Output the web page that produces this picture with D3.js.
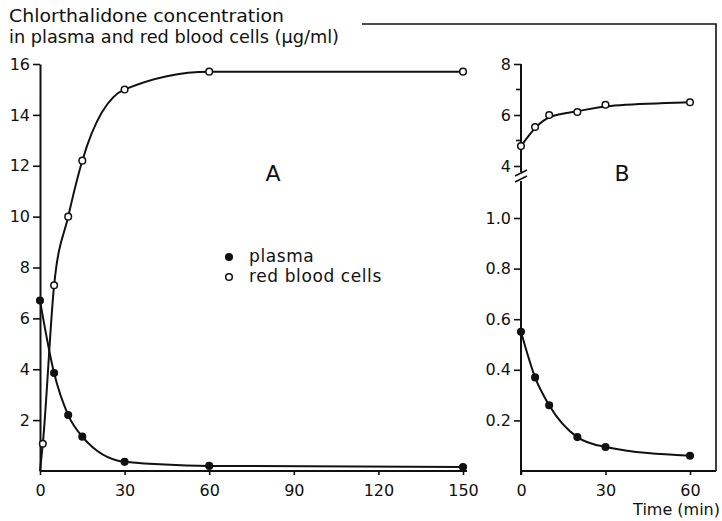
<!DOCTYPE html>
<html><head><meta charset="utf-8">
<script src="https://cdn.jsdelivr.net/npm/d3@7"></script>
<style>
body{margin:0;background:#fff;}
text{font-family:"DejaVu Sans",sans-serif;fill:#111;}
</style></head>
<body><svg id="c" width="722" height="521"></svg>
<script>
// ---- data ----
const titleLines = ["Chlorthalidone concentration", "in plasma and red blood cells (\u03bcg/ml)"];
// Panel A (0-150 min)
const plasmaATime = [0, 5, 10, 15, 30, 60, 150];
const plasmaAValue = [6.7, 3.85, 2.2, 1.35, 0.36, 0.2, 0.16];
const rbcATime = [0, 1, 5, 10, 15, 30, 60, 150];
const rbcAValue = [0, 1.07, 7.3, 10.0, 12.2, 15.0, 15.7, 15.7];
const rbcAMeasured = [false, true, true, true, true, true, true, true];
const xTicksA = [0, 30, 60, 90, 120, 150];
const yTicksA = [2, 4, 6, 8, 10, 12, 14, 16];
// Panel B (0-60 min)
const timeB = [0, 5, 10, 20, 30, 60];
const plasmaBValue = [0.55, 0.37, 0.26, 0.134, 0.095, 0.06];
const rbcBValue = [4.78, 5.53, 6.0, 6.12, 6.4, 6.5];
const xTicksB = [0, 30, 60];
const yTicksBLow = [0.2, 0.4, 0.6, 0.8, 1.0];
const yTicksBHigh = [4, 6, 8];
const yMinorBHigh = [5, 7];
const legendItems = ["plasma", "red blood cells"];

const svg = d3.select("#c");
const FS = 16;

// scales
const xA = d3.scaleLinear().domain([0, 150]).range([40, 463]);
const yA = d3.scaleLinear().domain([0, 16]).range([471, 64]);
const xB = d3.scaleLinear().domain([0, 60]).range([521, 690]);
const yBLow = d3.scaleLinear().domain([0, 1.0]).range([471, 218]);
const yBHigh = d3.scaleLinear().domain([4, 8]).range([166, 64]);

function styleAxis(g){
  g.selectAll("path.domain").attr("stroke","#111").attr("stroke-width",2);
  g.selectAll(".tick line").attr("stroke","#111").attr("stroke-width",1.6);
  g.selectAll("text").attr("font-size",FS).attr("font-family","DejaVu Sans, sans-serif").attr("fill","#111");
}

// title
const titleWidths = [275, 330];
svg.selectAll("text.title").data(titleLines).enter().append("text")
  .attr("class","title")
  .attr("x", 9).attr("y", (d,i)=> 22 + i*21).attr("font-size", 17)
  .attr("textLength", (d,i)=>titleWidths[i]).attr("lengthAdjust","spacingAndGlyphs")
  .text(d=>d);

// frame line top-right
svg.append("path").attr("d", `M362,24 H716 V471`).attr("fill","none").attr("stroke","#111").attr("stroke-width",1.6);

// ---- Panel A axes ----
const gyA = svg.append("g").attr("transform","translate(40,0)")
  .call(d3.axisLeft(yA).tickValues(yTicksA).tickSize(7).tickSizeOuter(0).tickPadding(3).tickFormat(d3.format("d")));
styleAxis(gyA);
const gxA = svg.append("g").attr("transform","translate(0,471)")
  .call(d3.axisBottom(xA).tickValues(xTicksA).tickSize(4).tickSizeOuter(0).tickPadding(10).tickFormat(d3.format("d")));
styleAxis(gxA);
gxA.select("path.domain").attr("d", `M${xA(0)},0H${xA(150)+4}`);

// ---- Panel B axes ----
const gyBLow = svg.append("g").attr("transform",`translate(${xB(0)},0)`)
  .call(d3.axisLeft(yBLow).tickValues(yTicksBLow).tickSize(7).tickSizeOuter(0).tickPadding(3).tickFormat(d3.format(".1f")));
styleAxis(gyBLow);
gyBLow.select("path.domain").attr("d", `M0,${yBLow(0)+4}V181`);
const gyBHigh = svg.append("g").attr("transform",`translate(${xB(0)},0)`)
  .call(d3.axisLeft(yBHigh).tickValues(yTicksBHigh).tickSize(7).tickSizeOuter(0).tickPadding(3).tickFormat(d3.format("d")));
styleAxis(gyBHigh);
gyBHigh.select("path.domain").attr("d", `M0,${yBHigh(8)}V172`);
svg.append("g").attr("transform",`translate(${xB(0)},0)`)
  .selectAll("line").data(yMinorBHigh).enter().append("line")
  .attr("x1",-5).attr("x2",0).attr("y1",d=>yBHigh(d)).attr("y2",d=>yBHigh(d))
  .attr("stroke","#111").attr("stroke-width",1.6);
// break marks
svg.selectAll("line.brk").data([0,6]).enter().append("line")
  .attr("class","brk")
  .attr("x1", xB(0)-6).attr("x2", xB(0)+6)
  .attr("y1", d=>176+d).attr("y2", d=>170+d)
  .attr("stroke","#111").attr("stroke-width",1.8);

const gxB = svg.append("g").attr("transform","translate(0,471)")
  .call(d3.axisBottom(xB).tickValues(xTicksB).tickSize(4).tickSizeOuter(0).tickPadding(10).tickFormat(d3.format("d")));
styleAxis(gxB);
gxB.select("path.domain").attr("d", `M${xB(0)},0H716`);

svg.append("text").attr("x",720).attr("y",515).attr("text-anchor","end")
  .attr("font-size",FS).text("Time (min)");

// panel letters
svg.append("text").attr("x", 273).attr("y", 181).attr("text-anchor","middle").attr("font-size",22).text("A");
svg.append("text").attr("x", 622).attr("y", 181).attr("text-anchor","middle").attr("font-size",22).text("B");

// ---- curves ----
function drawSeries(xs, ys, xScale, yScale, curve, measured, filled){
  const pts = xs.map((t,i)=>({t, v:ys[i], m: measured ? measured[i] : true}));
  svg.append("path").datum(pts)
    .attr("d", d3.line().x(d=>xScale(d.t)).y(d=>yScale(d.v)).curve(curve))
    .attr("fill","none").attr("stroke","#111").attr("stroke-width",2);
  svg.append("g").selectAll("circle").data(pts.filter(d=>d.m)).enter().append("circle")
    .attr("cx", d=>xScale(d.t)).attr("cy", d=>yScale(d.v)).attr("r", 3.3)
    .attr("fill", filled ? "#111" : "#fff").attr("stroke","#111").attr("stroke-width",1.5);
}
drawSeries(rbcATime, rbcAValue, xA, yA, d3.curveMonotoneX, rbcAMeasured, false);
drawSeries(plasmaATime, plasmaAValue, xA, yA, d3.curveMonotoneX, null, true);
drawSeries(timeB, rbcBValue, xB, yBHigh, d3.curveBasis, null, false);
drawSeries(timeB, plasmaBValue, xB, yBLow, d3.curveMonotoneX, null, true);

// legend
const lg = svg.append("g");
legendItems.forEach((name,i)=>{
  const y = 257 + i*20;
  lg.append("circle").attr("cx",229).attr("cy",y).attr("r",3.3)
    .attr("fill", i===0 ? "#111" : "#fff").attr("stroke","#111").attr("stroke-width",1.5);
  lg.append("text").attr("x",249).attr("y",y+5).attr("font-size",17)
    .attr("letter-spacing",0.6).text(name);
});
</script></body></html>
